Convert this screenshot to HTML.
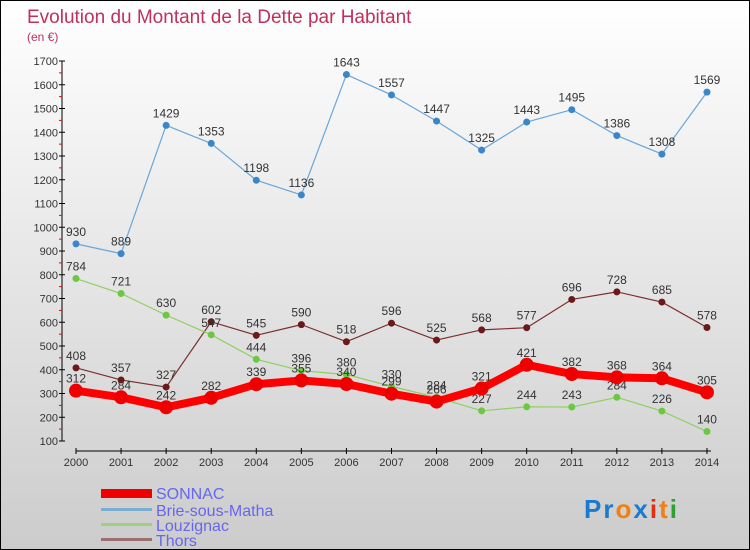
<!DOCTYPE html>
<html><head><meta charset="utf-8"><style>
body{margin:0}
#c{width:750px;height:550px;position:relative;box-sizing:border-box;border:1px solid #000;background:linear-gradient(#fff,#ccc);font-family:"Liberation Sans",sans-serif;overflow:hidden}
</style></head><body>
<div id="c">
<svg id="s" width="748" height="548" style="position:absolute;left:0;top:0">
<text x="26" y="22" font-size="19" fill="#c0305a">Evolution du Montant de la Dette par Habitant</text>
<text x="26" y="40" font-size="12" fill="#c0305a">(en €)</text>
<g id="axes"></g><g id="series"></g>
<g>
<rect x="100" y="488" width="51" height="9" fill="#e00"/>
<text x="155" y="498" font-size="16" fill="#66e">SONNAC</text>
<rect x="100" y="507" width="51" height="3" fill="#7aaed0"/>
<text x="155" y="515" font-size="16" fill="#66e">Brie-sous-Matha</text>
<rect x="100" y="522" width="51" height="3" fill="#9ed080"/>
<text x="155" y="530" font-size="16" fill="#66e">Louzignac</text>
<rect x="100" y="537" width="51" height="3" fill="#987070"/>
<text x="155" y="545" font-size="16" fill="#66e">Thors</text>
</g>
<text x="583" y="517" font-size="26" font-weight="bold" letter-spacing="2"><tspan fill="#1a7ad0">Pr</tspan><tspan fill="#f08010">o</tspan><tspan fill="#1a7ad0">x</tspan><tspan fill="#e03010">i</tspan><tspan fill="#f08010">t</tspan><tspan fill="#30a030">i</tspan></text>
</svg></div>
<script>
const years=[2000,2001,2002,2003,2004,2005,2006,2007,2008,2009,2010,2011,2012,2013,2014];
const sonnac=[312,284,242,282,339,355,340,299,266,321,421,382,368,364,305];
const brie=[930,889,1429,1353,1198,1136,1643,1557,1447,1325,1443,1495,1386,1308,1569];
const louzignac=[784,721,630,547,444,396,380,330,284,227,244,243,284,226,140];
const thors=[408,357,327,602,545,590,518,596,525,568,577,696,728,685,578];
const yTicks=[100,200,300,400,500,600,700,800,900,1000,1100,1200,1300,1400,1500,1600,1700];
const NS="http://www.w3.org/2000/svg";
const X=i=>75+i*45.07, Y=v=>440-(v-100)*380/1600;
const ax=document.getElementById('axes'), sg=document.getElementById('series');
function mk(p,tag,a){const e=document.createElementNS(NS,tag);for(const k in a)e.setAttribute(k,a[k]);p.appendChild(e);return e;}
let e=mk(ax,'line',{x1:61,y1:60,x2:61,y2:440,stroke:'#000','stroke-width':1});


e=mk(ax,'line',{x1:75,y1:450,x2:710,y2:450,stroke:'#000','stroke-width':1});


yTicks.forEach((t,i)=>{const y=Y(t);mk(ax,'line',{x1:58,x2:64,y1:y,y2:y,stroke:'#000'});
 if(i<yTicks.length-1)mk(ax,'line',{x1:58,x2:61,y1:Y(t+50),y2:Y(t+50),stroke:'#e00'});
 const tx=mk(ax,'text',{x:57,y:y+4,'font-size':11,'text-anchor':'end',fill:'#333'});tx.textContent=t;
 
 });
years.forEach((yr,i)=>{const x=X(i);mk(ax,'line',{x1:x,x2:x,y1:447,y2:453,stroke:'#000'});
 const tx=mk(ax,'text',{x:x,y:465,'font-size':11,'text-anchor':'middle',fill:'#333'});tx.textContent=yr;
 
 });
function draw(data,color,dot,w,r,name){
 const g=mk(sg,'g',{});
 
 
 mk(g,'polyline',{points:data.map((v,i)=>X(i)+','+Y(v)).join(' '),fill:'none',stroke:color,'stroke-width':w,'stroke-linejoin':'round'});
 data.forEach((v,i)=>{const c=mk(g,'circle',{cx:X(i),cy:Y(v),r:r,fill:dot});
  
  
  const t=mk(g,'text',{x:X(i),y:Y(v)-8,'font-size':12,'text-anchor':'middle',fill:'#333'});t.textContent=v;
  
  });
}
draw(brie,'#6aa6d8','#3a86c8',1.2,3.5,'brie');
draw(thors,'#7a3030','#6a1a1a',1.2,3.5,'thors');
draw(louzignac,'#8ed060','#6cc840',1.2,3.5,'louzignac');
draw(sonnac,'#f00','#e00',8,7,'sonnac');
</script>
</body></html>
